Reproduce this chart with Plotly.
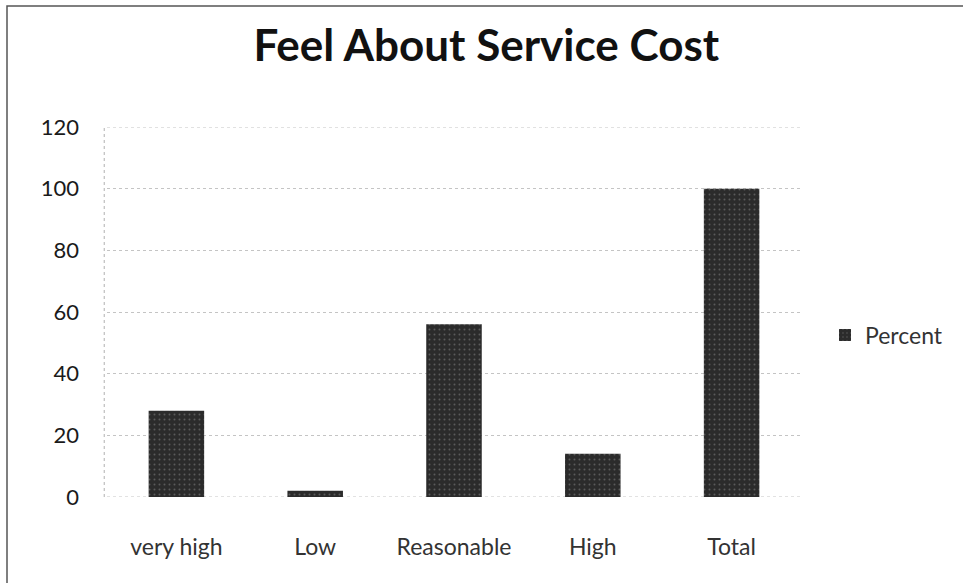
import plotly.graph_objects as go

# Survey responses: how respondents feel about service cost
categories = ["very high", "Low", "Reasonable", "High", "Total"]
percent = [28, 2, 56, 14, 100]
y_ticks = [0, 20, 40, 60, 80, 100, 120]

W, H = 963, 583
L, R, T, B = 107, 162, 127, 86
pw, ph = W - L - R, H - T - B


def px_x(px):
    return (px - L) / pw


def px_y(py):
    return (H - B - py) / ph


fig = go.Figure()
fig.add_trace(go.Bar(
    x=categories,
    y=percent,
    name="Percent",
    marker=dict(
        color="#2b2b2b",
        line=dict(width=0),
        pattern=dict(shape=".", fgcolor="#8a8a8a", bgcolor="#2b2b2b",
                     size=5, solidity=0.12),
    ),
    width=0.4,
))

shapes = [
    # outer frame of the chart object
    dict(type="rect", xref="paper", yref="paper",
         x0=px_x(7), x1=px_x(W + 20), y0=px_y(H + 20), y1=px_y(6),
         line=dict(color="#555555", width=1.5), layer="below"),
    # dotted value axis line
    dict(type="line", xref="paper", yref="paper", x0=-0.004, x1=-0.004,
         y0=0, y1=1, line=dict(color="#b0b0b0", width=1, dash="dot"),
         layer="below"),
]
# dotted lines at the bottom and top of the value range
for v in (y_ticks[0], y_ticks[-1]):
    shapes.append(dict(type="line", xref="paper", yref="y", x0=0, x1=1,
                       y0=v, y1=v, line=dict(color="#c4c4c4", width=1, dash="dot"),
                       layer="below"))

fig.update_layout(
    width=W, height=H,
    margin=dict(l=L, r=R, t=T, b=B),
    paper_bgcolor="white", plot_bgcolor="white",
    font=dict(family="Lato, 'Open Sans', sans-serif", color="#222222"),
    title=dict(text="<b>Feel About Service Cost</b>", x=0.505, xanchor="center",
               y=1 - 46 / H, yanchor="middle", yref="container",
               font=dict(size=44, color="#111111")),
    showlegend=True,
    legend=dict(x=px_x(825), xanchor="left", y=px_y(335), yanchor="middle",
                font=dict(size=23, color="#333333"), bgcolor="rgba(0,0,0,0)"),
    bargap=0.6,
    shapes=shapes,
)
fig.update_xaxes(
    showgrid=False, showline=False, zeroline=False,
    tickfont=dict(size=23, color="#333333"), ticklabelstandoff=34,
)
fig.update_yaxes(
    range=[0, 120], tickvals=y_ticks, ticktext=[str(v) for v in y_ticks],
    showgrid=True, gridcolor="#c4c4c4", griddash="dot", gridwidth=1,
    showline=False, zeroline=False,
    tickfont=dict(size=22, color="#1a1a1a"),
    ticklabelstandoff=27,
)

fig.write_html("out.html")
